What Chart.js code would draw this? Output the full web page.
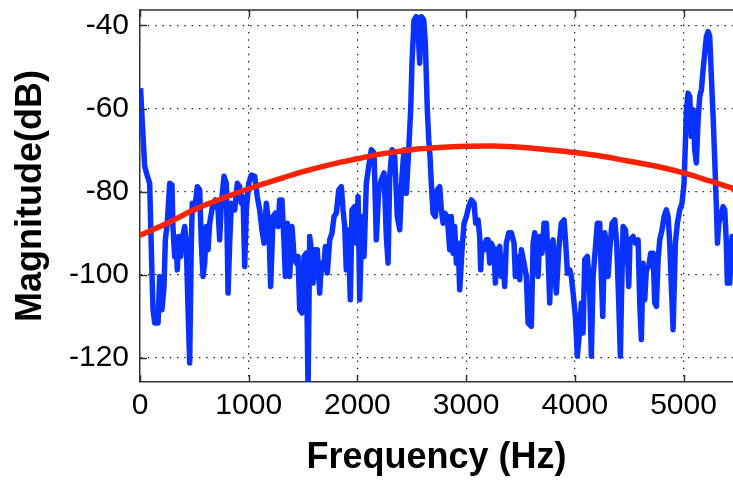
<!DOCTYPE html>
<html>
<head>
<meta charset="utf-8">
<script src="https://cdn.jsdelivr.net/npm/chart.js@4/dist/chart.umd.min.js"></script>
<style>
  html, body { margin: 0; padding: 0; background: #fff; }
  #wrap { width: 733px; height: 482px; }
</style>
</head>
<body>
<div id="wrap"><canvas id="c" width="733" height="482"></canvas></div>
<script>
// Tick values
const xTicks = [0, 1000, 2000, 3000, 4000, 5000];
const yTicks = [-120, -100, -80, -60, -40];

// Blue spectrum (Hz, dB)
const blueHz = [5,18,43,68,89,98,110,120,135,166,181,202,221,233,251,273,294,303,319,334,343,356,374,386,411,426,442,457,472,481,503,527,549,564,580,595,610,626,641,672,693,718,733,748,773,794,810,825,840,871,895,917,932,948,963,978,1000,1024,1055,1079,1101,1122,1141,1162,1184,1202,1224,1245,1270,1285,1306,1325,1337,1355,
1377,1398,1417,1438,1454,1469,1490,1509,1530,1546,1561,1576,1592,1607,1631,1653,1668,1690,1705,1723,1745,1766,1785,1806,1828,1852,1868,1883,1898,1914,1935,1950,1975,1990,2006,2021,2042,2061,2082,2104,2128,2153,2174,2196,2220,2245,2266,2282,2297,2318,2343,2367,2389,2410,2429,2450,2472,2490,2502,2521,2542,2558,2573,2588,2610,2625,2643,2656,2668,2680,2696,2717,2735,
2757,2772,2788,2803,2827,2849,2864,2880,2895,2910,2926,2941,2962,2981,3002,3024,3048,3073,3088,3110,3125,3134,3146,3165,3186,3202,3217,3232,3257,3269,3287,3309,3324,3340,3355,3370,3392,3416,3441,3453,3472,3493,3508,3533,3554,3570,3600,3616,3631,3646,3662,3677,3698,3717,3738,3754,3769,3784,3800,3815,3830,3852,3876,3901,3916,3932,3953,3968,3984,4005,4023,4045,4060,4076,4091,4115,
4137,4152,4168,4183,4207,4229,4244,4257,4275,4290,4306,4321,4342,4367,4385,4404,4419,4428,4444,4465,4483,4496,4508,4536,4557,4582,4597,4612,4628,4643,4658,4680,4698,4720,4735,4750,4766,4781,4802,4821,4842,4858,4873,4888,4904,4925,4943,4965,4986,5005,5017,5026,5042,5057,5072,5088,5103,5118,5134,5149,5164,5180,5195,5210,5226,5241,5256,5272,5287,5302,5312,5324,5342,5364,5379,5394,5403,5425,5446,5456];
const blueDb = [-55.1,-61.9,-73.9,-76.3,-78.0,-87.6,-99.6,-108.4,-111.6,-111.6,-100.4,-108.4,-102.8,-91.6,-87.6,-78.0,-78.4,-88.4,-95.6,-92.4,-98.8,-90.8,-95.6,-91.6,-88.4,-92.4,-108.4,-121.2,-92.4,-82.8,-84.4,-78.8,-79.6,-92.4,-100.4,-97.2,-88.4,-94.0,-87.6,-82.8,-82.0,-84.4,-91.6,-82.8,-76.3,-78.0,-104.4,-92.4,-82.8,-84.4,-78.0,-78.8,-82.8,-81.2,-98.0,-84.4,-78.0,-76.0,-76.3,-81.2,-84.4,-89.2,-92.4,-82.8,-87.6,-102.8,-86.0,-85.2,-88.4,-82.0,-82.0,-92.4,-100.4,-87.6,
-100.4,-88.4,-95.6,-97.2,-95.6,-108.4,-109.2,-95.6,-94.8,-128,-90.8,-94,-102,-94,-94,-104.4,-97.2,-98.8,-93.2,-99.6,-91.6,-90,-86,-85.2,-79.6,-78.8,-84.4,-88.4,-98.8,-89.2,-106,-84.4,-83.6,-92.4,-81.2,-106,-86,-95.6,-78,-73.9,-69.9,-70.7,-91.6,-79.6,-77.1,-75.5,-90.8,-97.2,-76.3,-69.9,-71.5,-86,-89.2,-76.3,-69.9,-80.4,-69.9,-60.3,-49.1,-38.7,-37.9,-41.1,-49.1,-37.9,-38.7,-44.3,-60.3,-67.5,-71.5,-78,-85.2,-86,-79.6,
-78.8,-84.4,-87.6,-85.2,-86,-94,-86,-94.8,-88.4,-97.2,-92.4,-103.6,-94,-87.6,-86,-83.6,-82,-82.8,-87.6,-86.8,-90.8,-98.8,-92.4,-94,-91.6,-91.6,-97.2,-92.4,-94,-102,-94,-93.2,-100.4,-95.6,-102.8,-92.4,-89.9,-89.9,-92.4,-100.4,-95.6,-101.2,-94,-97.2,-100.4,-111.6,-112.4,-92.4,-89.9,-92.4,-100.4,-90.8,-94.8,-87.6,-87.6,-95.6,-106.8,-94,-91.6,-99.6,-104.4,-94,-87.6,-86.8,-92.4,-99.6,-98.8,-100.4,-104.4,-110,-119.6,-113.2,-106.8,-114,-96.4,-95.6,
-104.4,-119.6,-100.4,-95.6,-87.6,-87.6,-100.4,-110,-89.9,-92.4,-100.4,-94,-87.6,-86.8,-92.4,-106.8,-119.6,-106.8,-88.4,-89.2,-94,-102.8,-91.6,-90.8,-92.4,-91.6,-106.8,-115.6,-97.2,-106,-98.8,-98,-94.8,-94.8,-106.8,-107.6,-96.4,-91.6,-89.2,-86,-84.4,-86,-92.4,-102.8,-113.2,-92.4,-87.6,-84.4,-82.8,-78,-68.3,-60.3,-56.3,-57.1,-66.7,-60.3,-69.9,-73.1,-62.7,-57.1,-55.5,-50.7,-46.7,-42.7,-41.5,-42.7,-52.3,-61.9,-72.3,-83.6,-92.4,-87.6,-86,-83.6,-84.4,-92.4,-102,-102,-90.8,-90.8];

// Red smooth envelope (Hz, dB)
const redHz = [0,250,500,750,1000,1250,1500,1750,2000,2250,2500,2750,3000,3250,3500,3750,4000,4250,4500,4750,5000,5250,5500];
const redDb = [-90.5,-87.6,-84.3,-81.7,-79.3,-77.2,-75.2,-73.5,-72.1,-70.8,-69.9,-69.4,-69.1,-69.0,-69.3,-69.9,-70.6,-71.5,-72.7,-73.9,-75.5,-77.5,-79.6];

const bluePts = blueHz.map((h, i) => ({ x: h, y: blueDb[i] }));
const redPts = redHz.map((h, i) => ({ x: h, y: redDb[i] }));

const FONT = "'Liberation Sans', Arial, Helvetica, sans-serif";

const frame = {
  id: 'frame',
  afterDatasetsDraw(chart) {
    const { ctx, chartArea: a, scales: { x, y } } = chart;
    ctx.save();
    ctx.strokeStyle = '#333';
    ctx.lineWidth = 1.5;
    ctx.beginPath();
    ctx.moveTo(a.left, a.top);
    ctx.lineTo(a.right, a.top);
    xTicks.forEach(v => {
      const p = Math.round(x.getPixelForValue(v)) + 0.5;
      ctx.moveTo(p, a.top); ctx.lineTo(p, a.top + 7);
      ctx.moveTo(p, a.bottom); ctx.lineTo(p, a.bottom - 7);
    });
    yTicks.forEach(v => {
      const p = Math.round(y.getPixelForValue(v)) + 0.5;
      ctx.moveTo(a.left, p); ctx.lineTo(a.left + 7, p);
    });
    ctx.stroke();
    ctx.restore();
  }
};

new Chart(document.getElementById('c'), {
  type: 'line',
  data: {
    datasets: [
      { data: redPts, borderColor: '#ff2200', borderWidth: 5.5, pointRadius: 0, tension: 0.4, fill: false, clip: 0 },
      { data: bluePts, borderColor: '#0a32ff', borderWidth: 5.5, borderJoinStyle: 'round', pointRadius: 0, tension: 0, fill: false, clip: 0 }
    ]
  },
  options: {
    responsive: false,
    animation: false,
    devicePixelRatio: 1,
    layout: { padding: { top: 10, right: 0, left: 0, bottom: 0 } },
    plugins: { legend: { display: false }, tooltip: { enabled: false } },
    scales: {
      x: {
        type: 'linear',
        min: 0,
        max: 5455,
        afterBuildTicks: s => { s.ticks = xTicks.map(v => ({ value: v })); },
        afterFit: s => { s.height = 100; s.paddingLeft = 0; s.paddingRight = 0; },
        grid: { color: '#222', lineWidth: 1.2, drawTicks: false },
        border: { display: true, color: '#333', width: 1.5, dash: [1.5, 5.8] },
        ticks: { padding: 6, color: '#000', font: { family: FONT, size: 30 }, callback: v => String(v), maxRotation: 0 },
        title: { display: true, text: 'Frequency (Hz)', color: '#000', font: { family: FONT, size: 36, weight: 'bold' }, padding: { top: 0, bottom: 2 } }
      },
      y: {
        type: 'linear',
        min: -125.8,
        max: -36.3,
        afterBuildTicks: s => { s.ticks = yTicks.map(v => ({ value: v })); },
        afterFit: s => { s.width = 140; s.paddingTop = 0; s.paddingBottom = 0; },
        grid: { color: '#222', lineWidth: 1.2, drawTicks: false },
        border: { display: true, color: '#333', width: 1.5, dash: [1.5, 5.8] },
        ticks: { padding: 11, color: '#000', font: { family: FONT, size: 30 }, callback: v => String(v) },
        title: { display: true, text: 'Magnitude(dB)', color: '#000', font: { family: FONT, size: 36, weight: 'bold' }, padding: { top: 9, bottom: 0 } }
      }
    }
  },
  plugins: [frame]
});
</script>
</body>
</html>
